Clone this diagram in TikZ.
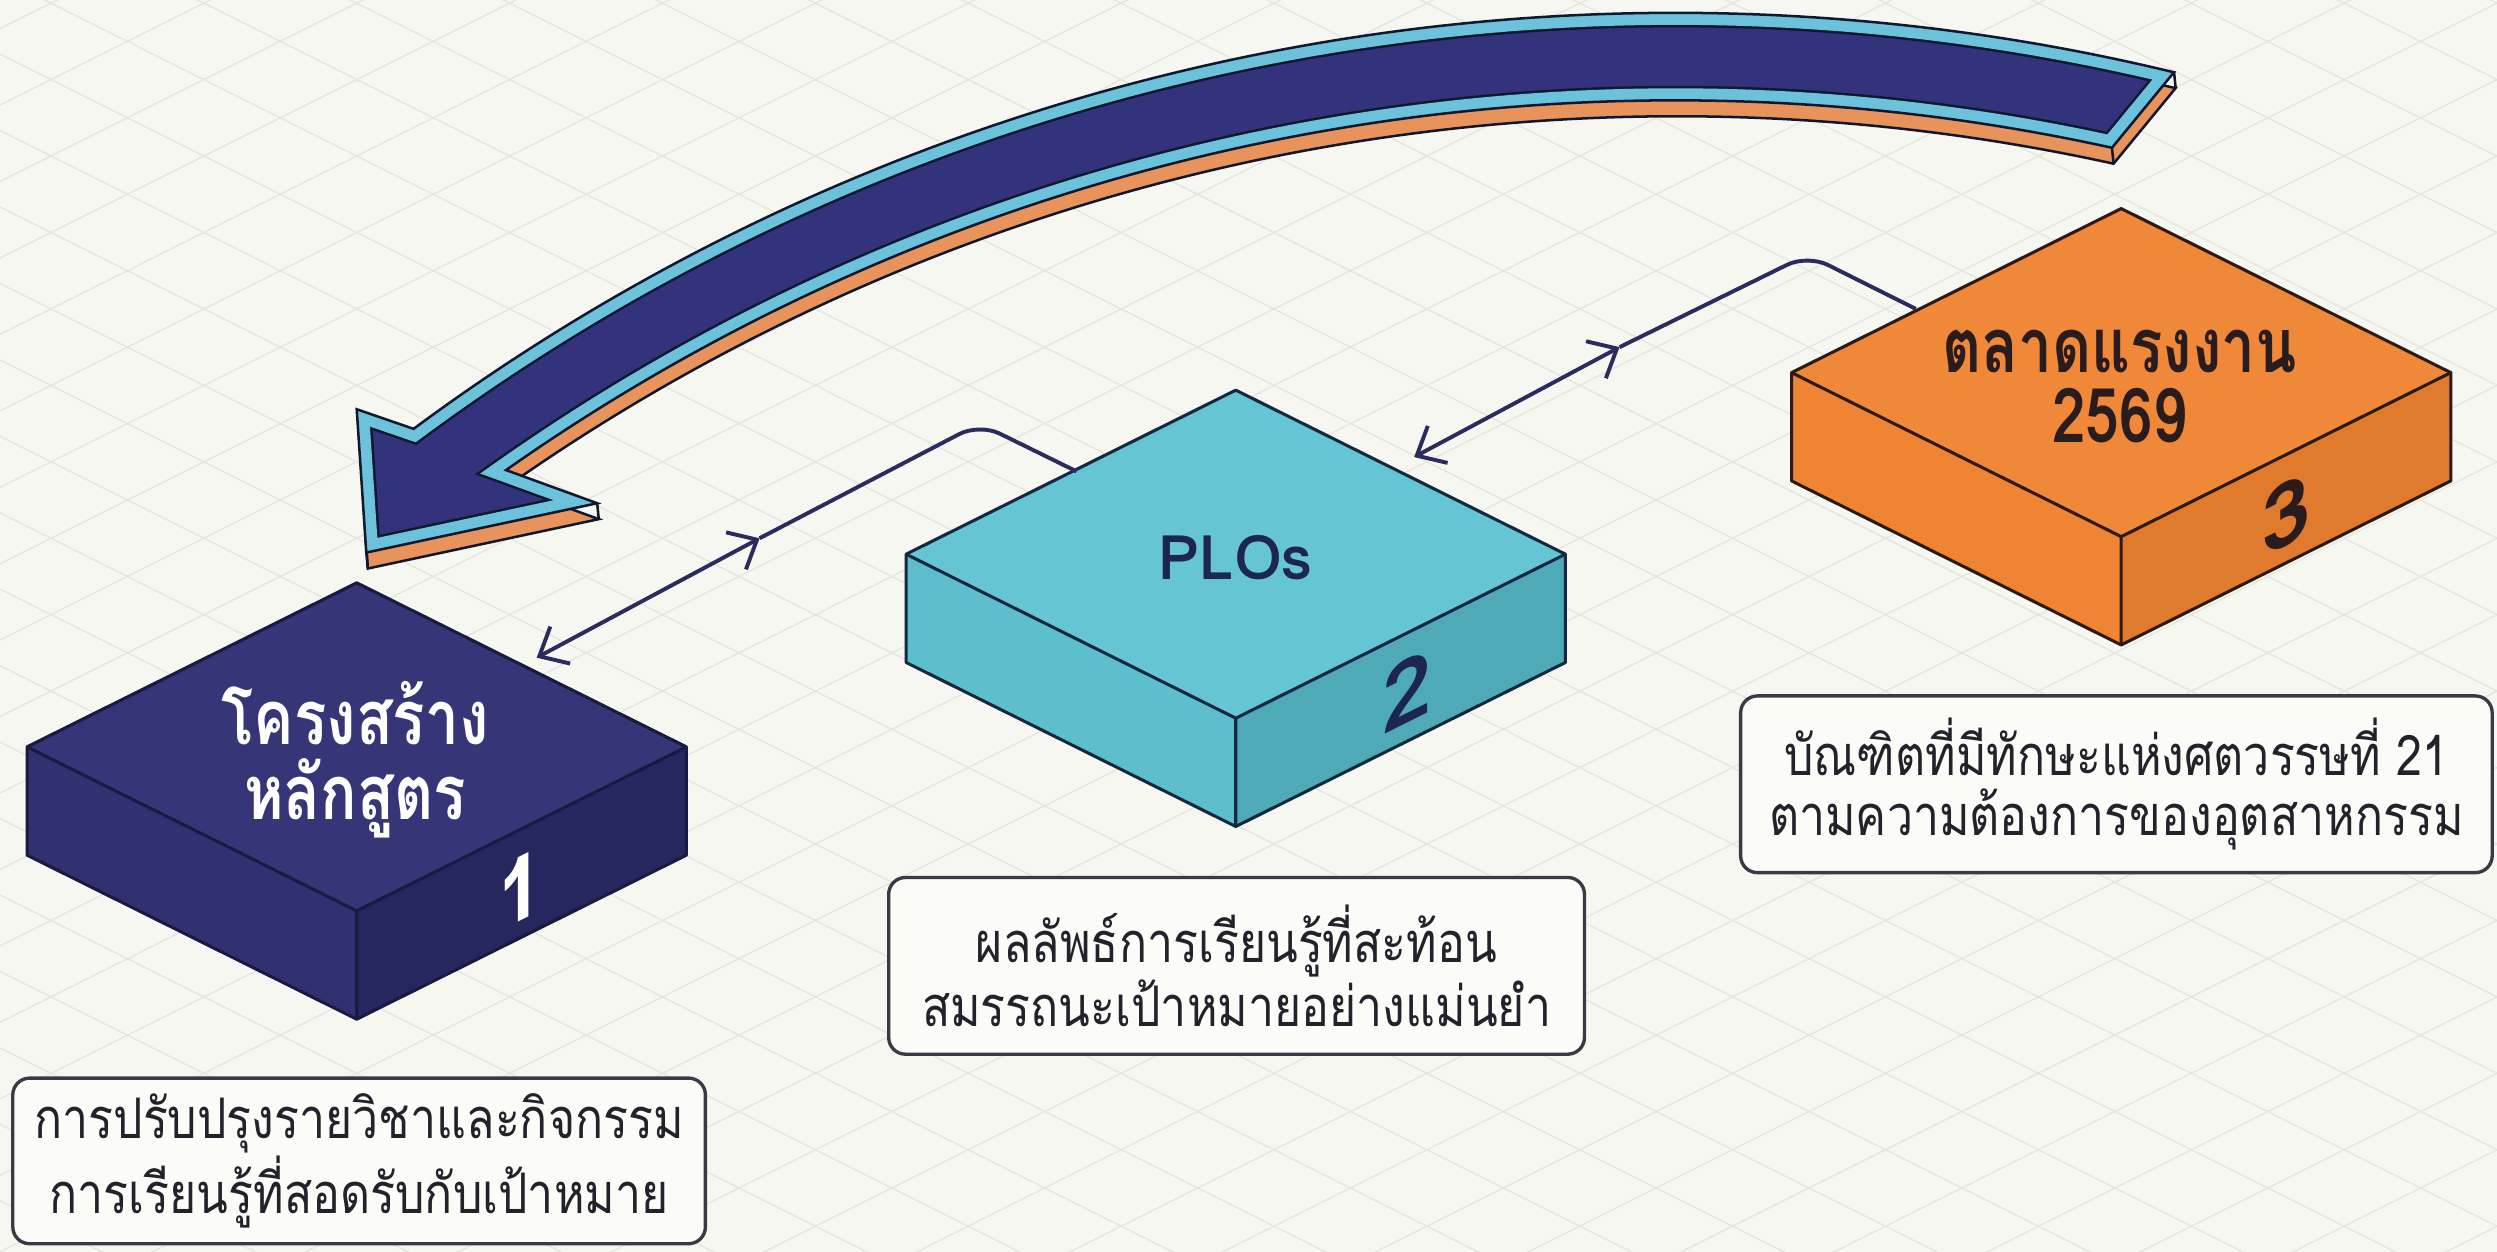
\documentclass[tikz,border=0pt]{standalone}
\usepackage{fontspec}
\usepackage{graphicx}
\setmainfont[Script=Thai]{Loma}
\newfontfamily\capfont[Script=Thai, FakeStretch=0.83]{Loma}
\newfontfamily\titlefont[Script=Thai, FakeStretch=0.8]{Loma}
\usetikzlibrary{arrows.meta,calc}

\definecolor{bgcol}{HTML}{F7F7F2}
\definecolor{gridcol}{HTML}{E6E6E0}
\definecolor{navyT}{HTML}{353578}
\definecolor{navyL}{HTML}{303170}
\definecolor{navyR}{HTML}{272760}
\definecolor{navyE}{HTML}{1A1A40}
\definecolor{cyanT}{HTML}{65C5D5}
\definecolor{cyanL}{HTML}{5DBFCE}
\definecolor{cyanR}{HTML}{4FAAB8}
\definecolor{cyanE}{HTML}{16283F}
\definecolor{orT}{HTML}{F0883A}
\definecolor{orL}{HTML}{EE8434}
\definecolor{orR}{HTML}{E07A2C}
\definecolor{orE}{HTML}{2E1A12}
\definecolor{ribNavy}{HTML}{33337D}
\definecolor{ribCyan}{HTML}{6CC2DA}
\definecolor{ribOrange}{HTML}{E8925C}
\definecolor{ribEdge}{HTML}{101830}
\definecolor{linkcol}{HTML}{2B2B5E}
\definecolor{capText}{HTML}{22222A}
\definecolor{capEdge}{HTML}{3A3A44}
\definecolor{capFill}{HTML}{FBFBF8}
\definecolor{navyText}{HTML}{1D2552}
\definecolor{brownText}{HTML}{2A1C1C}

\newcommand{\ribbonpath}{(259.7,-269.3) arc[start angle=126.5,end angle=76.4,radius=1332] -- (1326.2,-92.8) arc[start angle=77.6,end angle=125.1,radius=1277] -- (375,-316) -- (230,-347) -- (224,-257) -- cycle}

\newcommand{\isoblock}[6]{%
  \coordinate (#1) at (#2);
  \coordinate (#1-t) at ($(#1)+(0,103)$);
  \coordinate (#1-l) at ($(#1)+(-207,0)$);
  \coordinate (#1-r) at ($(#1)+(207,0)$);
  \coordinate (#1-f) at ($(#1)+(0,-103)$);
  \coordinate (#1-lb) at ($(#1-l)+(0,-68)$);
  \coordinate (#1-rb) at ($(#1-r)+(0,-68)$);
  \coordinate (#1-fb) at ($(#1-f)+(0,-68)$);
  \fill[#4] (#1-l) -- (#1-f) -- (#1-fb) -- (#1-lb) -- cycle;
  \fill[#5] (#1-f) -- (#1-r) -- (#1-rb) -- (#1-fb) -- cycle;
  \fill[#3] (#1-t) -- (#1-r) -- (#1-f) -- (#1-l) -- cycle;
  \draw[draw=#6, blockedge] (#1-l) -- (#1-t) -- (#1-r) -- (#1-rb) -- (#1-fb) -- (#1-lb) -- cycle;
  \draw[draw=#6, blockedge] (#1-l) -- (#1-f) -- (#1-r) (#1-f) -- (#1-fb);
}

\begin{document}
\begin{tikzpicture}[x=0.02cm,y=0.02cm,
  gridline/.style={draw=gridcol, line width=0.5pt},
  blockedge/.style={line width=1.1pt, line join=round},
  link/.style={draw=linkcol, line width=1.4pt},
  barb/.tip={Straight Barb[length=8.5pt,width=15pt]},
  capbox/.style={draw=capEdge, fill=capFill, line width=1.2pt, rounded corners=6pt,
    align=center, text=capText, font=\capfont\fontsize{20}{21.5}\selectfont, inner sep=0pt},
  title/.style={align=center, font=\titlefont\fontsize{27}{27}\selectfont\bfseries},
  num/.style={font=\fontsize{32}{32}\selectfont\bfseries, yslant=0.5}]
\useasboundingbox (0,0) rectangle (1568,-786);
\fill[bgcol] (0,0) rectangle (1568,-786);
\begin{scope}
  \clip (0,0) rectangle (1568,-786);
  \foreach \c in {-1700,-1652,...,0} \draw[gridline] (-100,\c) -- (1700,\c+900);
  \foreach \c in {-800,-752,...,920} \draw[gridline] (-100,\c) -- (1700,\c-900);
\end{scope}

% big curved ribbon arrow
\begin{scope}[shift={(1,-10)}]
  \filldraw[fill=ribOrange, draw=ribEdge, line width=0.9pt, line join=miter] \ribbonpath;
\end{scope}
\draw[ribEdge, line width=0.9pt] (1365.2,-45.3) -- ++(1,-10) (1326.2,-92.8) -- ++(1,-10)
  (230,-347) -- ++(1,-10) (375,-316) -- ++(1,-10);
\fill[ribNavy] \ribbonpath;
\begin{scope}
  \clip \ribbonpath;
  \draw[ribEdge, line width=10.4pt, line join=miter, miter limit=20] \ribbonpath;
  \draw[ribCyan, line width=8.6pt, line join=miter, miter limit=20] \ribbonpath;
\end{scope}
\draw[ribEdge, line width=0.9pt, line join=miter] \ribbonpath;

% blocks
\isoblock{box1}{224,-469}{navyT}{navyL}{navyR}{navyE}
\isoblock{box2}{776,-348}{cyanT}{cyanL}{cyanR}{cyanE}
\isoblock{box3}{1332,-234}{orT}{orL}{orR}{orE}

% connectors
\coordinate (a12) at (337,-413);
\coordinate (m12) at (477,-338);
\coordinate (k12) at (615,-266);
\coordinate (e12) at (676,-296);
\draw[link, barb-barb] (a12) -- (m12);
\draw[link, rounded corners=8pt] (m12) -- (k12) -- (e12);
\coordinate (a23) at (888,-287);
\coordinate (m23) at (1017,-218);
\coordinate (k23) at (1135,-160);
\coordinate (e23) at (1203,-194);
\draw[link, barb-barb] (a23) -- (m23);
\draw[link, rounded corners=8pt] (m23) -- (k23) -- (e23);

% titles
\node[title, text=white] (t1) at (223,-477) {โครงสร้าง\\หลักสูตร};
\node[font=\fontsize{22}{22}\selectfont\bfseries, text=navyText] (t2) at (776,-350) {PLOs};
\node[title, text=brownText, font=\titlefont\fontsize{27}{25}\selectfont\bfseries] (t3) at (1331,-243) {ตลาดแรงงาน\\2569};

% numbers
\node[num, text=white] (n1) at (327,-558) {1};
\node[num, text=navyText] (n2) at (884,-434) {2};
\node[num, text=brownText] (n3) at (1436,-323) {3};

% captions
\node[capbox, minimum width=8.70cm, minimum height=2.08cm] (cap1) at (225.5,-729)
  {การปรับปรุงรายวิชาและกิจกรรม\\การเรียนรู้ที่สอดรับกับเป้าหมาย};
\node[capbox, minimum width=8.74cm, minimum height=2.22cm] (cap2) at (776.5,-606.5)
  {ผลลัพธ์การเรียนรู้ที่สะท้อน\\สมรรถนะเป้าหมายอย่างแม่นยำ};
\node[capbox, minimum width=9.44cm, minimum height=2.22cm] (cap3) at (1329,-492.5)
  {บัณฑิตที่มีทักษะแห่งศตวรรษที่ 21\\ตามความต้องการของอุตสาหกรรม};
\end{tikzpicture}
\end{document}
